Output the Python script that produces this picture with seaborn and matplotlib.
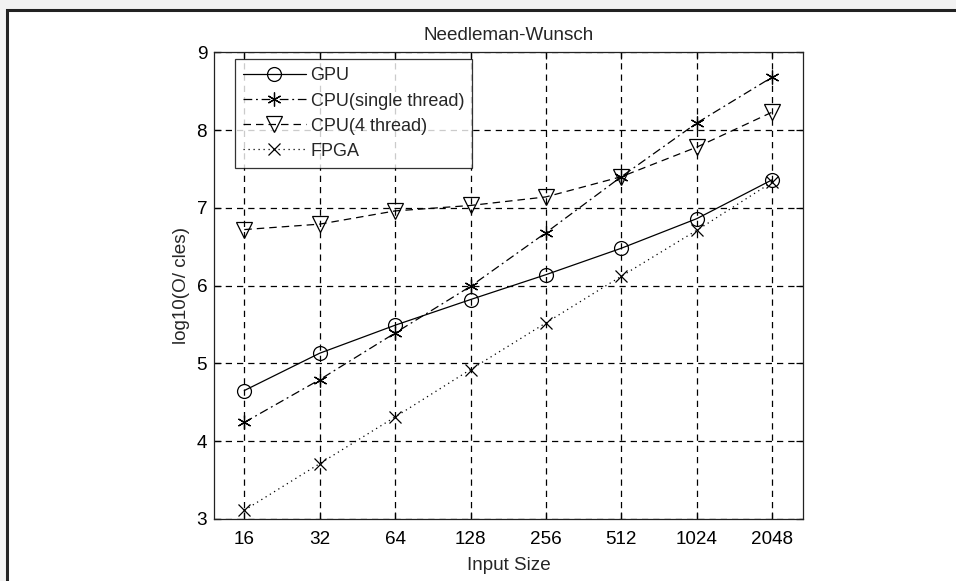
import numpy as np
import pandas as pd
import matplotlib
matplotlib.use('Agg')
import matplotlib.pyplot as plt
from matplotlib.patches import Rectangle
from matplotlib.ticker import FixedLocator, FixedFormatter, NullLocator
import seaborn as sns

# data
input_sizes = [16, 32, 64, 128, 256, 512, 1024, 2048]
gpu = [4.65, 5.13, 5.49, 5.82, 6.14, 6.48, 6.86, 7.36]
cpu_single = [4.24, 4.79, 5.39, 5.99, 6.68, 7.40, 8.09, 8.68]
cpu_four = [6.72, 6.79, 6.96, 7.03, 7.14, 7.40, 7.78, 8.23]
fpga = [3.11, 3.71, 4.31, 4.92, 5.52, 6.12, 6.71, 7.33]
y_ticks = [3, 4, 5, 6, 7, 8, 9]

sns.set_style('ticks')
plt.rcParams['font.family'] = ['Liberation Sans', 'DejaVu Sans']
fs = 13.6

fig = plt.figure(figsize=(9.56, 5.81), dpi=100, facecolor='#f2f2f2')
# white page with dark frame, as in the scanned figure
fig.patches.append(Rectangle((7 / 956, -0.05), 1.1, 1.05 - 10 / 581,
                             transform=fig.transFigure, facecolor='white',
                             edgecolor='#222222', linewidth=2.2, zorder=-1))

ax = fig.add_axes([0.224, 0.107, 0.616, 0.803])

# MATLAB style asterisk marker
asterisk = (6, 2, 0)
series = [
    ('GPU', gpu, 'o', '-', 10),
    ('CPU(single thread)', cpu_single, asterisk, (0, (7, 3, 1.5, 3)), 10),
    ('CPU(4 thread)', cpu_four, 'v', (0, (6, 4)), 11),
    ('FPGA', fpga, 'x', (0, (1, 3)), 8),
]
for name, vals, mk, ls, ms in series:
    df = pd.DataFrame({'size': input_sizes, 'val': vals})
    sns.lineplot(data=df, x='size', y='val', ax=ax, color='black', lw=0.9,
                 marker=mk, markersize=ms,
                 markerfacecolor='none', markeredgecolor='black',
                 markeredgewidth=0.9, linestyle=ls, label=name)

ax.set_xscale('log', base=2)
ax.set_xlim(2 ** 3.6, 2 ** 11.41)
ax.set_ylim(3, 9)
ax.xaxis.set_major_locator(FixedLocator(input_sizes))
ax.xaxis.set_major_formatter(FixedFormatter([str(s) for s in input_sizes]))
ax.xaxis.set_minor_locator(NullLocator())
ax.set_yticks(y_ticks)

ax.grid(True, color='black', linestyle=(0, (5, 4)), linewidth=0.9)
ax.tick_params(direction='in', top=True, right=True, length=5, width=0.9,
               labelsize=fs, colors='black', pad=5)
ax.tick_params(axis='x', pad=9)
for sp in ax.spines.values():
    sp.set_linewidth(0.9)
    sp.set_color('#222222')

ax.set_title('Needleman-Wunsch', fontsize=fs, pad=9)
ax.set_xlabel('Input Size', fontsize=fs, labelpad=6)
ax.set_ylabel('log10(O/ cles)', fontsize=fs, labelpad=5)

leg = ax.legend(loc='upper left', bbox_to_anchor=(0.035, 0.985), fontsize=13,
                frameon=True, fancybox=False, edgecolor='black',
                handlelength=3.5, handletextpad=0.25, borderpad=0.45,
                labelspacing=0.45, borderaxespad=0.0)
leg.get_frame().set_linewidth(0.9)

plt.savefig('out.png', dpi=100, facecolor=fig.get_facecolor())
plt.close()
